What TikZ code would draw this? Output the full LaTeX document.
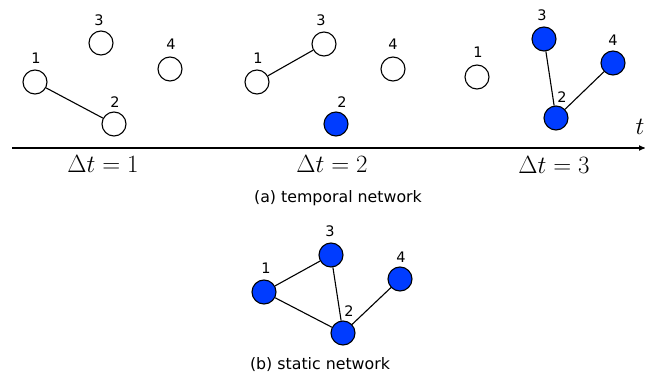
\documentclass[tikz,border=0pt]{standalone}
\usepackage{fontspec}
\setsansfont{DejaVu Sans}
\usetikzlibrary{arrows.meta}
\definecolor{nodeblue}{RGB}{0,60,255}
\begin{document}
\begin{tikzpicture}[x=1pt,y=-1pt,
  vtx/.style={circle,draw=black,line width=1.1pt,minimum size=24pt,inner sep=0pt,fill=white},
  bvtx/.style={vtx,fill=nodeblue},
  lbl/.style={font=\sffamily\fontsize{14.5}{16}\selectfont,inner sep=0pt},
  captext/.style={font=\sffamily\fontsize{15.8}{18}\selectfont,inner sep=0pt},
  dt/.style={font=\fontsize{24}{28}\selectfont,inner sep=0pt},
  edge/.style={line width=1.1pt}]
\useasboundingbox (0,0) rectangle (645,377);
% axis
\coordinate (axs) at (12,148);
\coordinate (axe) at (646,148);
\draw[line width=1.1pt,-{Latex[length=7pt,width=6pt]}] (axs) -- (axe);
\node[dt] (tl) at (640,127) {$t$};
% panel 1
\node[vtx] (a1) at (35,82) {};
\node[vtx] (a2) at (114,124) {};
\node[vtx] (a3) at (101,43) {};
\node[vtx] (a4) at (170,69) {};
\draw[edge] (a1) -- (a2);
\node[lbl] (la1) at (36,58) {1};
\node[lbl] (la2) at (115,102) {2};
\node[lbl] (la3) at (99,20) {3};
\node[lbl] (la4) at (171,44) {4};
\node[dt] (dt1) at (103,164) {$\Delta t = 1$};
% panel 2
\node[vtx] (b1) at (257,82) {};
\node[bvtx] (b2) at (336,124) {};
\node[vtx] (b3) at (324,44) {};
\node[vtx] (b4) at (393,69) {};
\draw[edge] (b1) -- (b3);
\node[lbl] (lb1) at (258,58) {1};
\node[lbl] (lb2) at (342,102) {2};
\node[lbl] (lb3) at (321,20) {3};
\node[lbl] (lb4) at (393,44) {4};
\node[dt] (dt2) at (332,164) {$\Delta t = 2$};
% panel 3
\node[vtx] (c1) at (477,77) {};
\node[bvtx] (c2) at (556,118) {};
\node[bvtx] (c3) at (544,39) {};
\node[bvtx] (c4) at (613,63) {};
\draw[edge] (c3) -- (c2);
\draw[edge] (c2) -- (c4);
\node[lbl] (lc1) at (478,52) {1};
\node[lbl] (lc2) at (562,97) {2};
\node[lbl] (lc3) at (542,15) {3};
\node[lbl] (lc4) at (613,40) {4};
\node[dt] (dt3) at (554,165) {$\Delta t = 3$};
\node[captext] (capa) at (338,198) {(a) temporal network};
% static network
\node[bvtx] (s1) at (264,292) {};
\node[bvtx] (s2) at (343,333) {};
\node[bvtx] (s3) at (331,255) {};
\node[bvtx] (s4) at (400,279) {};
\draw[edge] (s1) -- (s3);
\draw[edge] (s1) -- (s2);
\draw[edge] (s3) -- (s2);
\draw[edge] (s2) -- (s4);
\node[lbl] (ls1) at (266,268) {1};
\node[lbl] (ls2) at (349,311) {2};
\node[lbl] (ls3) at (330,231) {3};
\node[lbl] (ls4) at (401,257) {4};
\node[captext] (capb) at (320,365) {(b) static network};
\end{tikzpicture}
\end{document}
